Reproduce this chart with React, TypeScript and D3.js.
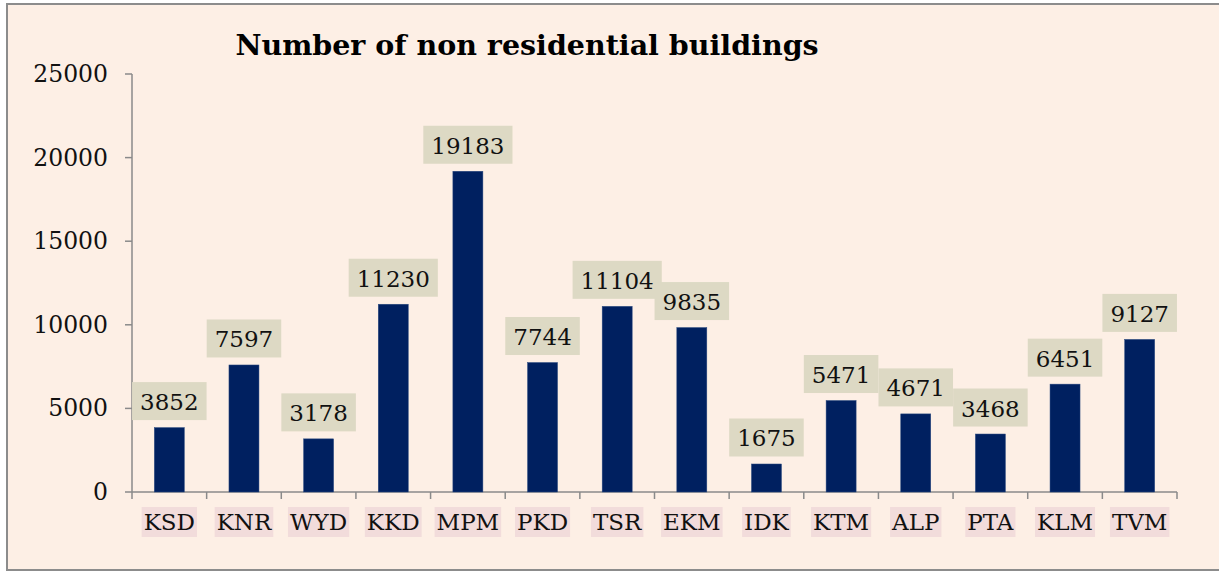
import React, { useEffect, useRef } from "react";
import * as d3 from "d3";

const categories = ["KSD", "KNR", "WYD", "KKD", "MPM", "PKD", "TSR", "EKM", "IDK", "KTM", "ALP", "PTA", "KLM", "TVM"];
const values = [3852, 7597, 3178, 11230, 19183, 7744, 11104, 9835, 1675, 5471, 4671, 3468, 6451, 9127];
const yTicks = [0, 5000, 10000, 15000, 20000, 25000];
const title = "Number of non residential buildings";

const W = 1219;
const H = 572;
const FONT = "'DejaVu Serif', Georgia, serif";

export default function App() {
  const ref = useRef<SVGSVGElement>(null);

  useEffect(() => {
    const svg = d3.select(ref.current);
    svg.selectAll("*").remove();

    svg.append("rect").attr("x", 0).attr("y", 0).attr("width", W).attr("height", H).attr("fill", "#ffffff");
    svg.append("rect")
      .attr("x", 7).attr("y", 4).attr("width", W + 10).attr("height", 566)
      .attr("fill", "#FDEFE5").attr("stroke", "#8c8c8c").attr("stroke-width", 2);

    const left = 132, right = 1177, top = 74, bottom = 492;
    const x = d3.scaleBand<string>().domain(categories).range([left, right]).paddingInner(0).paddingOuter(0);
    const y = d3.scaleLinear().domain([0, 25000]).range([bottom, top]);
    const barW = 30;
    const axisColor = "#8a8a8a";

    // title
    svg.append("text")
      .attr("x", 527).attr("y", 55)
      .attr("text-anchor", "middle")
      .attr("font-family", FONT).attr("font-weight", "bold").attr("font-size", 28.5)
      .attr("fill", "#000").text(title);

    // y axis
    svg.append("line").attr("x1", left).attr("x2", left).attr("y1", top).attr("y2", bottom)
      .attr("stroke", axisColor).attr("stroke-width", 1.5);
    yTicks.forEach((t) => {
      svg.append("line").attr("x1", left - 7).attr("x2", left).attr("y1", y(t)).attr("y2", y(t))
        .attr("stroke", axisColor).attr("stroke-width", 1.5);
      svg.append("text").attr("x", 108).attr("y", y(t) + 8)
        .attr("text-anchor", "end").attr("font-family", FONT).attr("font-size", 23.5)
        .attr("fill", "#111").text(String(t));
    });

    // x axis
    svg.append("line").attr("x1", left).attr("x2", right).attr("y1", bottom).attr("y2", bottom)
      .attr("stroke", axisColor).attr("stroke-width", 1.5);
    const bounds = categories.map((c) => x(c) as number).concat([right]);
    bounds.forEach((b) => {
      svg.append("line").attr("x1", b).attr("x2", b).attr("y1", bottom).attr("y2", bottom + 7)
        .attr("stroke", axisColor).attr("stroke-width", 1.5);
    });

    // bars
    categories.forEach((c, i) => {
      const cx = (x(c) as number) + x.bandwidth() / 2;
      const v = values[i];
      svg.append("rect")
        .attr("x", cx - barW / 2).attr("y", y(v)).attr("width", barW).attr("height", bottom - y(v))
        .attr("fill", "#002060").attr("stroke", "#2a4a80").attr("stroke-width", 0.5);

      // value label
      const g = svg.append("g");
      const boxH = 38;
      const boxBottom = y(v) - 7.5;
      const rect = g.append("rect").attr("fill", "#DDD9C4");
      const txt = g.append("text")
        .attr("x", cx).attr("y", boxBottom - 10)
        .attr("text-anchor", "middle").attr("font-family", FONT).attr("font-size", 23)
        .attr("fill", "#111").text(String(v));
      const tw = (txt.node() as SVGTextElement).getComputedTextLength();
      const bw = tw + 16;
      rect.attr("x", cx - bw / 2).attr("y", boxBottom - boxH).attr("width", bw).attr("height", boxH);

      // category label
      const cg = svg.append("g");
      const crect = cg.append("rect").attr("fill", "#F2DCDB");
      const ctxt = cg.append("text")
        .attr("x", cx).attr("y", 530)
        .attr("text-anchor", "middle").attr("font-family", FONT).attr("font-size", 23)
        .attr("fill", "#111").text(c);
      const cw = (ctxt.node() as SVGTextElement).getComputedTextLength();
      crect.attr("x", cx - cw / 2 - 2).attr("y", 507).attr("width", cw + 4).attr("height", 30);
    });
  }, []);

  return (
    <svg ref={ref} width={W} height={H} style={{ position: "absolute", left: 0, top: 0, display: "block" }} />
  );
}
